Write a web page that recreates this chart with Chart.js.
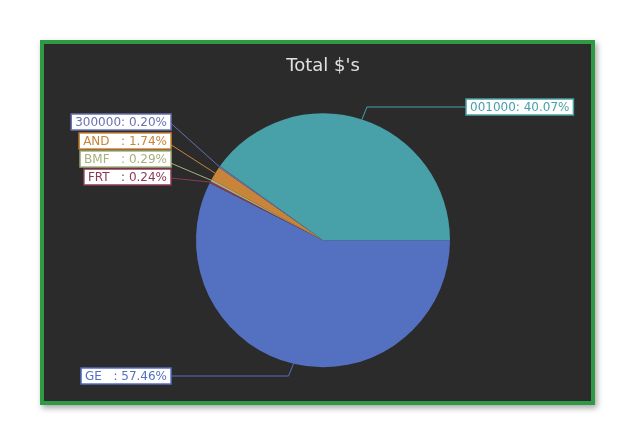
<!DOCTYPE html>
<html>
<head>
<meta charset="utf-8">
<script src="https://cdn.jsdelivr.net/npm/chart.js@4"></script>
<style>
  body { margin: 0; background: #fff; font-family: "DejaVu Sans", sans-serif; }
  #frame { position: absolute; left: 40px; top: 40px; width: 547px; height: 357px;
           border: 4px solid #2f9a44; background: #2b2b2b; box-shadow: 2px 3px 6px rgba(0,0,0,0.35); }
  canvas { display: block; }
</style>
</head>
<body>
<div id="frame"><canvas id="pie" width="547" height="357"></canvas></div>
<script>
// clockwise from 3 o'clock
const labels = ['GE', 'FRT', 'BMF', 'AND', '300000', '001000'];
const shares = [57.46, 0.24, 0.29, 1.74, 0.20, 40.07];
const colors = ['#5470c0', '#8a3a52', '#a8b07e', '#c8853a', '#6a70b0', '#48a0a8'];
const tagText = ['GE   : 57.46%', 'FRT   : 0.24%', 'BMF   : 0.29%', 'AND   : 1.74%', '300000: 0.20%', '001000: 40.07%'];

// where each tag box sits (left/right edge x, centre y) and which side it hangs from
const tagPlace = [
    { x: 127, y: 332, side: 'left' },
    { x: 127, y: 133, side: 'left' },
    { x: 127, y: 115, side: 'left' },
    { x: 127, y: 97,  side: 'left' },
    { x: 127, y: 78,  side: 'left' },
    { x: 422, y: 63,  side: 'right' }
];

const tagPlugin = {
    id: 'tags',
    afterDraw(chart) {
        const c = chart.ctx;
        const arcs = chart.getDatasetMeta(0).data;
        c.save();
        c.font = '12px "DejaVu Sans", sans-serif';
        c.textBaseline = 'middle';
        arcs.forEach((arc, i) => {
            const p = arc.getProps(['x', 'y', 'startAngle', 'endAngle', 'outerRadius'], true);
            const a = (p.startAngle + p.endAngle) / 2;
            const ex = p.x + Math.cos(a) * p.outerRadius;
            const ey = p.y + Math.sin(a) * p.outerRadius;
            const t = tagPlace[i];
            const w = c.measureText(tagText[i]).width + 8;
            const bx = t.side === 'left' ? t.x - w : t.x;
            const edgeX = t.side === 'left' ? t.x : t.x;
            const elbowX = t.side === 'left' ? ex - (i === 0 ? 5 : 50) : ex + 5;
            c.strokeStyle = colors[i];
            c.lineWidth = 1;
            c.beginPath();
            c.moveTo(ex, ey);
            c.lineTo(elbowX, t.y);
            c.lineTo(edgeX, t.y);
            c.stroke();
            c.fillStyle = '#fff';
            c.fillRect(bx, t.y - 8, w, 16);
            c.lineWidth = 1.5;
            c.strokeRect(bx, t.y - 8, w, 16);
            c.fillStyle = colors[i];
            c.fillText(tagText[i], bx + 4, t.y + 1);
        });
        c.restore();
    }
};

new Chart(document.getElementById('pie'), {
    type: 'pie',
    data: {
        labels,
        datasets: [{
            data: shares,
            backgroundColor: colors,
            borderWidth: 0,
            radius: 127
        }]
    },
    options: {
        responsive: false,
        animation: false,
        rotation: 90,
        layout: { padding: { left: 11, bottom: 10 } },
        plugins: {
            legend: { display: false },
            tooltip: { enabled: false },
            title: {
                display: true,
                text: "Total $'s",
                color: '#e0e0e0',
                font: { size: 18, weight: 'normal', family: '"DejaVu Sans", sans-serif' },
                padding: { top: 12, bottom: 12 }
            }
        }
    },
    plugins: [tagPlugin]
});
</script>
</body>
</html>
